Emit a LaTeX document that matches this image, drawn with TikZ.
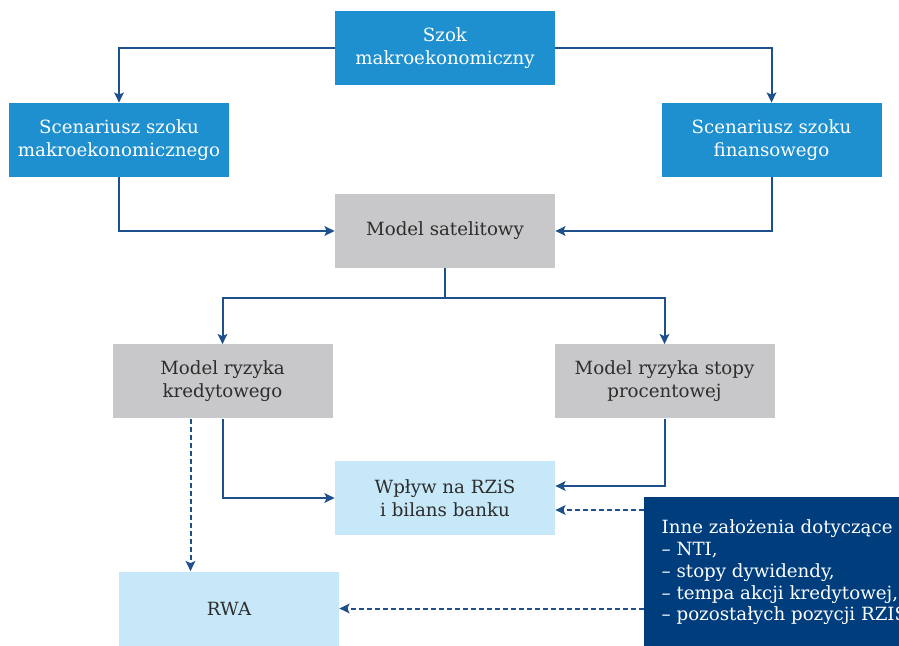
\documentclass[tikz,border=0pt]{standalone}
\usepackage{fontspec}
\setmainfont{DejaVu Serif}
\usetikzlibrary{arrows.meta}

\definecolor{boxblue}{RGB}{30,144,208}
\definecolor{boxgray}{RGB}{200,200,202}
\definecolor{boxlight}{RGB}{198,232,248}
\definecolor{boxnavy}{RGB}{0,61,125}
\definecolor{linenavy}{RGB}{30,80,140}
\definecolor{textdark}{RGB}{45,45,45}

\tikzset{
  box/.style={minimum width=110pt, minimum height=37pt, inner sep=2pt,
    align=center, font=\fontsize{9.1}{11.4}\selectfont},
  bluebox/.style={box, fill=boxblue, text=white},
  graybox/.style={box, fill=boxgray, text=textdark},
  lightbox/.style={box, fill=boxlight, text=textdark},
  link/.style={draw=linenavy, line width=1pt,
    -{Stealth[length=5pt,width=4.8pt,inset=1pt]}},
  dashlink/.style={link, dash pattern=on 2.4pt off 1.6pt}
}

\begin{document}
\begin{tikzpicture}[x=0.5pt,y=-0.5pt]
        \useasboundingbox (0,0) rectangle (899,646);

        % top level
        \node[bluebox] (szok) at (445,48) {Szok\\makroekonomiczny};
        \node[bluebox] (scmakro) at (119,140) {Scenariusz szoku\\makroekonomicznego};
        \node[bluebox] (scfin) at (771.5,140) {Scenariusz szoku\\finansowego};

        % models
        \node[graybox] (satel) at (445,231) {Model satelitowy};
        \node[graybox] (kred) at (222.5,381.5) {Model ryzyka\\kredytowego};
        \node[graybox] (proc) at (664.5,381.5) {Model ryzyka stopy\\procentowej};

        % outputs
        \node[lightbox] (wplyw) at (445,498) {Wpływ na RZiS\\i bilans banku};
        \node[lightbox] (rwa) at (229,608.5) {RWA};

        \node[anchor=north west, fill=boxnavy, text=white, minimum width=140pt,
          minimum height=75pt, inner xsep=8pt, align=left,
          font=\fontsize{9.1}{10.9}\selectfont] (inne) at (644,497)
          {Inne założenia dotyczące\\– NTI,\\– stopy dywidendy,\\– tempa akcji kredytowej,\\– pozostałych pozycji RZIS};

        % connectors
        \draw[link] (szok.west) -| (scmakro.north);
        \draw[link] (szok.east) -| (scfin.north);
        \draw[link] (scmakro.south) |- (satel.west);
        \draw[link] (scfin.south) |- (satel.east);
        \coordinate (split) at ([yshift=-15pt]satel.south);
        \draw[draw=linenavy, line width=1pt] (satel.south) -- (split);
        \draw[link] (split) -| (kred.north);
        \draw[link] (split) -| (proc.north);
        \draw[link] (kred.south) |- (wplyw.west);
        \draw[link] (proc.south) |- ([yshift=6pt]wplyw.east);

        \coordinate (kredout) at ([xshift=-16pt]kred.south);
        \draw[dashlink] (kredout) -- (kredout |- rwa.north);
        \coordinate (wplin) at ([yshift=-6pt]wplyw.east);
        \draw[dashlink] (wplin -| inne.west) -- (wplin);
        \draw[dashlink] (rwa.east -| inne.west) -- (rwa.east);
    \end{tikzpicture}
\end{document}
